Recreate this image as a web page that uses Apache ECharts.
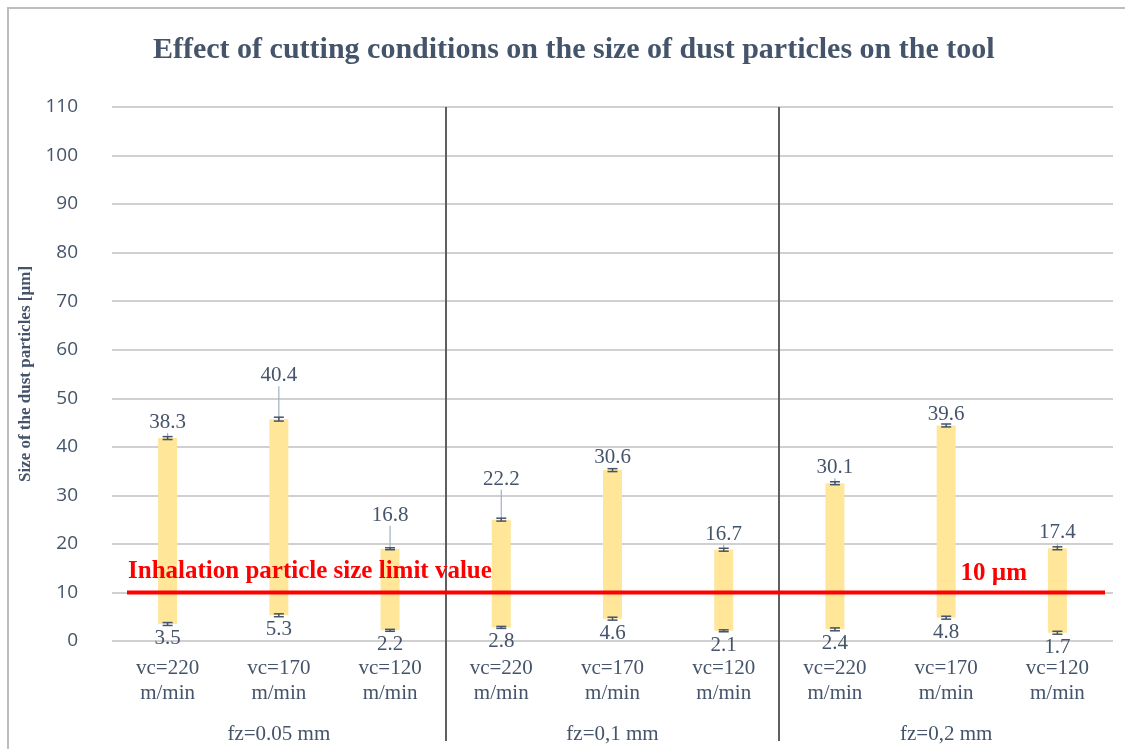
<!DOCTYPE html>
<html>
<head>
<meta charset="utf-8">
<script src="https://cdn.jsdelivr.net/npm/echarts@6/dist/echarts.min.js"></script>
<style>
  html, body { margin: 0; padding: 0; background: #ffffff; }
  #chart { width: 1125px; height: 749px; }
</style>
</head>
<body>
<div id="chart"></div>
<script>
// Cutting speed per bar, grouped by feed per tooth
const categories = [
  'vc=220\nm/min', 'vc=170\nm/min', 'vc=120\nm/min',
  'vc=220\nm/min', 'vc=170\nm/min', 'vc=120\nm/min',
  'vc=220\nm/min', 'vc=170\nm/min', 'vc=120\nm/min'
];
const groups = ['fz=0.05 mm', 'fz=0,1 mm', 'fz=0,2 mm'];

// Smallest particle size and spread up to the largest size [µm]
const minSize = [3.5, 5.3, 2.2, 2.8, 4.6, 2.1, 2.4, 4.8, 1.7];
const sizeRange = [38.3, 40.4, 16.8, 22.2, 30.6, 16.7, 30.1, 39.6, 17.4];

// Error half-widths at the lower and upper ends
const errLow = [0.3, 0.3, 0.2, 0.2, 0.3, 0.2, 0.3, 0.3, 0.3];
const errHigh = [0.3, 0.4, 0.2, 0.3, 0.3, 0.3, 0.3, 0.3, 0.3];

// Inhalation limit
const limitValue = 10;

// Value axis ticks
const yMin = 0, yMax = 110, yStep = 10;

// Category indices after which a group separator is drawn
const separatorsAfter = [2, 5];

// Vertical offset of some upper labels, pulled away with a leader line
const upperLabelShift = [0, -28, -18, -25, 3, 0, 0, 5, 0];

const SLATE = '#44546a';
const SERIF = '"Liberation Serif", "Times New Roman", serif';

const chart = echarts.init(document.getElementById('chart'));

const errorData = categories.map((c, i) => [i, minSize[i], +(minSize[i] + sizeRange[i]).toFixed(2), errLow[i], errHigh[i]]);

function capShape(api, x, v, e, half) {
  const a = api.coord([x, v - e]);
  const b = api.coord([x, v + e]);
  const style = { stroke: SLATE, lineWidth: 1.5 };
  return [
    { type: 'line', shape: { x1: a[0], y1: a[1], x2: b[0], y2: b[1] }, style },
    { type: 'line', shape: { x1: a[0] - half, y1: a[1], x2: a[0] + half, y2: a[1] }, style },
    { type: 'line', shape: { x1: b[0] - half, y1: b[1], x2: b[0] + half, y2: b[1] }, style }
  ];
}

const option = {
  backgroundColor: '#ffffff',
  animation: false,
  title: {
    text: 'Effect of cutting conditions on the size of dust particles on the tool',
    left: 148,
    top: 30,
    textStyle: { fontFamily: SERIF, fontWeight: 'bold', fontSize: 30, color: SLATE }
  },
  graphic: [{
    type: 'rect',
    shape: { x: 8, y: 8, width: 1300, height: 900 },
    style: { fill: 'none', stroke: '#bdbdbd', lineWidth: 2 },
    silent: true,
    z: -10
  }],
  grid: { left: 112, right: 12, top: 107, bottom: 108, containLabel: false },
  xAxis: [{
    type: 'category',
    data: categories,
    axisLine: { show: false },
    axisTick: { show: false },
    axisLabel: {
      interval: 0,
      margin: 15,
      fontFamily: SERIF,
      fontSize: 21,
      lineHeight: 25,
      color: SLATE
    }
  }, {
    type: 'category',
    data: groups,
    position: 'bottom',
    axisLine: { show: false },
    axisTick: { show: false },
    axisLabel: {
      interval: 0,
      margin: 83,
      fontFamily: SERIF,
      fontSize: 21,
      color: SLATE
    }
  }],
  yAxis: {
    type: 'value',
    min: yMin,
    max: yMax,
    interval: yStep,
    name: 'Size of the dust particles [µm]',
    nameLocation: 'middle',
    nameGap: 76,
    nameTextStyle: { fontFamily: SERIF, fontWeight: 'bold', fontSize: 17, color: SLATE },
    axisLine: { show: false },
    axisTick: { show: false },
    axisLabel: { margin: 34, fontFamily: '"Open Sans", "Noto Sans", sans-serif', fontSize: 19, color: SLATE },
    splitLine: { lineStyle: { color: '#d0d0d0', width: 2 } }
  },
  series: [{
    name: 'min',
    type: 'bar',
    stack: 'size',
    data: minSize,
    barWidth: 19,
    silent: true,
    itemStyle: { color: 'transparent' },
    label: {
      show: true,
      position: 'insideTop',
      distance: 4,
      fontFamily: SERIF,
      fontSize: 21,
      color: SLATE
    },
    z: 3
  }, {
    name: 'range',
    type: 'bar',
    stack: 'size',
    data: sizeRange,
    barWidth: 19,
    silent: true,
    itemStyle: { color: '#ffe699' },
    label: {
      show: true,
      position: 'top',
      distance: 5,
      fontFamily: SERIF,
      fontSize: 21,
      color: SLATE
    },
    labelLayout: (p) => ({ dy: upperLabelShift[p.dataIndex] }),
    labelLine: { show: true, lineStyle: { color: '#9fb0c8', width: 1.2 } },
    z: 2
  }, {
    name: 'error',
    type: 'custom',
    data: errorData,
    encode: { x: 0, y: [1, 2] },
    silent: true,
    z: 5,
    renderItem: (params, api) => {
      const x = api.value(0);
      return {
        type: 'group',
        children: [
          ...capShape(api, x, api.value(1), api.value(3), 5),
          ...capShape(api, x, api.value(2), api.value(4), 5)
        ]
      };
    }
  }, {
    name: 'separator',
    type: 'custom',
    data: separatorsAfter.map(i => [i, yMax]),
    encode: { x: 0, y: 1 },
    silent: true,
    z: 6,
    renderItem: (params, api) => {
      const i = api.value(0);
      const a = api.coord([i, yMax]);
      const b = api.coord([i + 1, yMin]);
      const x = Math.round((a[0] + b[0]) / 2);
      return {
        type: 'line',
        shape: { x1: x, y1: a[1], x2: x, y2: b[1] + 100 },
        style: { stroke: '#5f5f5f', lineWidth: 2 }
      };
    }
  }, {
    name: 'limit',
    type: 'custom',
    data: [[0, limitValue]],
    encode: { x: 0, y: 1 },
    silent: true,
    z: 7,
    renderItem: (params, api) => {
      const cs = params.coordSys;
      const y = api.coord([0, api.value(1)])[1];
      const x0 = cs.x + 15;
      const x1 = cs.x + cs.width - 8;
      const font = 'bold 25px ' + SERIF;
      return {
        type: 'group',
        children: [
          { type: 'line', shape: { x1: x0, y1: y, x2: x1, y2: y }, style: { stroke: '#ff0000', lineWidth: 4 } },
          { type: 'text', style: { x: x0 + 1, y: y - 8, text: 'Inhalation particle size limit value', font, fill: '#ff0000', textAlign: 'left', textVerticalAlign: 'bottom' } },
          { type: 'text', style: { x: x1 - 78, y: y - 6, text: limitValue + ' µm', font, fill: '#ff0000', textAlign: 'right', textVerticalAlign: 'bottom' } }
        ]
      };
    }
  }]
};

chart.setOption(option);
</script>
</body>
</html>
